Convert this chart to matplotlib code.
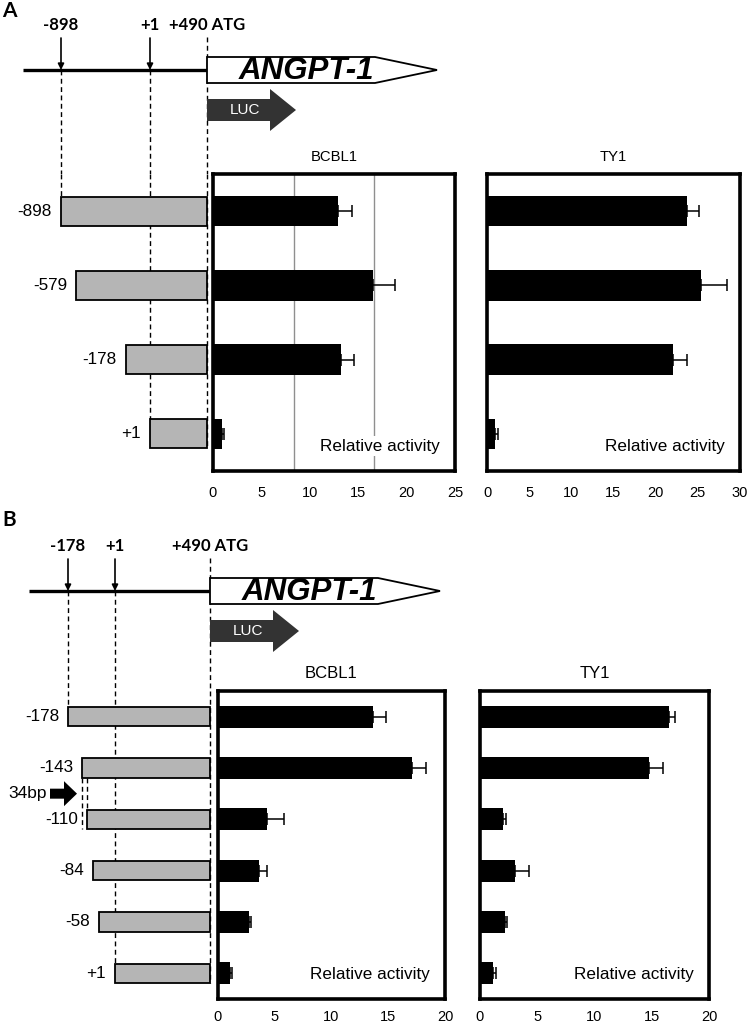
import numpy as np
import matplotlib
matplotlib.use("Agg")
import matplotlib.pyplot as plt
from matplotlib.patches import Polygon

plt.rcParams["font.family"] = ["Liberation Sans", "DejaVu Sans"]
BOLD = ["Lato", "DejaVu Sans"]

W, H = 750, 1026

# ---- data ----
atg = 490
gene_name = "ANGPT-1"
reporter = "LUC"
cells = ["BCBL1", "TY1"]

a_labels = ["-898", "-579", "-178", "+1"]
a_start = [-898, -579, -178, 1]
a_sites = [-898, 1]
a_bcbl1 = [12.9, 16.5, 13.2, 0.95]
a_bcbl1_err = [1.45, 2.3, 1.35, 0.2]
a_ty1 = [23.7, 25.4, 22.1, 0.95]
a_ty1_err = [1.4, 3.1, 1.6, 0.3]
a_xmax = [25, 30]

b_labels = ["-178", "-143", "-110", "-84", "-58", "+1"]
b_start = [-178, -143, -110, -84, -58, 1]
b_sites = [-178, 1]
b_bcbl1 = [13.7, 17.1, 4.3, 3.6, 2.7, 1.1]
b_bcbl1_err = [1.1, 1.2, 1.5, 0.7, 0.2, 0.15]
b_ty1 = [16.5, 14.8, 2.0, 3.05, 2.2, 1.1]
b_ty1_err = [0.5, 1.2, 0.3, 1.25, 0.2, 0.3]
b_xmax = [20, 20]
gap_label = "34bp"

# ---- layout (pixels) ----
# schematic (not to scale) placement of promoter positions
a_sketch = ([-898, -579, -178, 1, 490], [61, 76, 126, 150, 207])
b_sketch = ([-178, -143, -110, -84, -58, 1, 490], [68, 82, 87, 93, 99, 115, 210])

a_lay = dict(top=0, box_top=174, box_bot=471, line_y=70, line_x0=23, letter_y=11,
             boxes=[(213, 455), (487, 740)], title_size=10.7, bar_h=0.41, con_h=0.39,
             grids=[[25 / 3, 50 / 3], [10, 20]], grid_color="#8f8f8f", tick_pad=11)
b_lay = dict(top=480, box_top=691, box_bot=999, line_y=591, line_x0=29, letter_y=520,
             boxes=[(218, 445), (480, 709)], title_size=12, bar_h=0.43, con_h=0.38,
             grids=[[5, 10, 15], [5, 10, 15]], grid_color="black", tick_pad=8)

fig = plt.figure(figsize=(W / 100, H / 100), dpi=100)


def add_px(x0, y0, x1, y1):
    return fig.add_axes([x0 / W, 1 - y1 / H, (x1 - x0) / W, (y1 - y0) / H])


DASH = dict(color="black", lw=1.0, linestyle=(0, (3.5, 2.5)))


def draw_panel(letter, labels, starts, sites, sketch, series, xmaxs, lay):
    top, box_top, box_bot = lay["top"], lay["box_top"], lay["box_bot"]
    n = len(labels)

    def sk(bp):
        return np.interp(bp, sketch[0], sketch[1])

    x_atg = float(sk(atg))
    ly = lay["line_y"]

    # gene map
    axg = add_px(0, top, W, box_top)
    axg.set_xlim(0, W)
    axg.set_ylim(box_top, top)
    axg.axis("off")
    axg.text(9, lay["letter_y"], letter, family=BOLD, weight="bold", fontsize=15,
             ha="center", va="center")
    axg.plot([lay["line_x0"], x_atg], [ly, ly], color="black", lw=2.4,
             solid_capstyle="butt", zorder=2)
    for bp in sites:
        x = float(sk(bp))
        axg.annotate("", xy=(x, ly), xytext=(x, ly - 32),
                     arrowprops=dict(arrowstyle="-|>", color="black", lw=1.2,
                                     mutation_scale=9, shrinkA=0, shrinkB=0))
        axg.text(x, ly - 45, f"{bp:+d}", family=BOLD, weight="bold", fontsize=12,
                 ha="center", va="center")
        axg.plot([x, x], [ly, box_top], **DASH, zorder=1)
    axg.text(x_atg, ly - 45, f"{atg:+d} ATG", family=BOLD, weight="bold",
             fontsize=12, ha="center", va="center")
    axg.plot([x_atg, x_atg], [ly - 33, box_top], **DASH, zorder=1)

    gene = Polygon([(x_atg, ly - 13), (x_atg + 168, ly - 13), (x_atg + 230, ly),
                    (x_atg + 168, ly + 13), (x_atg, ly + 13)],
                   closed=True, fc="white", ec="black", lw=1.3, zorder=3)
    axg.add_patch(gene)
    axg.text(x_atg + 99, ly + 1, gene_name, fontsize=22.5, weight="bold",
             style="italic", ha="center", va="center", zorder=4)

    cy = ly + 40
    luc = Polygon([(x_atg, cy - 11), (x_atg + 63, cy - 11), (x_atg + 63, cy - 21),
                   (x_atg + 89, cy), (x_atg + 63, cy + 21), (x_atg + 63, cy + 11),
                   (x_atg, cy + 11)], closed=True, fc="#333333", ec="none", zorder=3)
    axg.add_patch(luc)
    axg.text(x_atg + 38, cy, reporter, color="white", fontsize=11,
             ha="center", va="center", zorder=4)

    # deletion constructs
    box_left = lay["boxes"][0][0]
    axc = add_px(0, box_top, box_left, box_bot)
    axc.set_xlim(0, box_left)
    axc.set_ylim(n - 0.5, -0.5)
    axc.axis("off")
    rows = np.arange(n)
    lefts = sk(np.array(starts))
    hc = lay["con_h"]
    axc.barh(rows, x_atg - lefts, left=lefts, height=hc, color="#b5b5b5",
             edgecolor="black", lw=1.3, zorder=3)
    for lab, x, r in zip(labels, lefts, rows):
        axc.annotate(lab, xy=(x, r), xytext=(-9, 0), textcoords="offset pixels",
                     ha="right", va="center", fontsize=12.3)
    for bp in sites:
        r = starts.index(bp)
        x = float(sk(bp))
        axc.plot([x, x], [-0.5, r - hc / 2], **DASH, zorder=1, clip_on=False)
    axc.plot([x_atg, x_atg], [-0.5, n - 1 + hc / 2], **DASH, zorder=1, clip_on=False)

    # activity bars
    for (title, vals, errs), xmax, (x0, x1), grid in zip(series, xmaxs, lay["boxes"],
                                                         lay["grids"]):
        ax = add_px(x0, box_top, x1, box_bot)
        ax.barh(rows, vals, height=lay["bar_h"], color="black",
                xerr=[np.zeros(n), errs],
                error_kw=dict(ecolor="black", elinewidth=1.1, capsize=4.5, capthick=1.1))
        ax.set_xlim(0, xmax)
        ax.set_ylim(n - 0.5, -0.5)
        ax.set_xticks(np.arange(0, xmax + 1, 5))
        ax.set_xticks(grid, minor=True)
        ax.grid(axis="x", which="minor", color=lay["grid_color"], lw=1.0)
        ax.set_axisbelow(True)
        ax.set_yticks([])
        ax.tick_params(which="both", length=0, labelsize=10.5, pad=lay["tick_pad"])
        for s in ax.spines.values():
            s.set_linewidth(2.6)
        ax.set_title(title, fontsize=lay["title_size"], pad=9)
        ax.annotate("Relative activity", xy=(1, 0), xycoords="axes fraction",
                    xytext=(-15, 25), textcoords="offset pixels", ha="right",
                    va="center", fontsize=12.3, zorder=5,
                    bbox=dict(fc="white", ec="none", pad=1.5))
    return axc, sk


draw_panel("A", a_labels, a_start, a_sites, a_sketch,
           [(cells[0], a_bcbl1, a_bcbl1_err), (cells[1], a_ty1, a_ty1_err)],
           a_xmax, a_lay)
axc_b, sk_b = draw_panel("B", b_labels, b_start, b_sites, b_sketch,
                         [(cells[0], b_bcbl1, b_bcbl1_err), (cells[1], b_ty1, b_ty1_err)],
                         b_xmax, b_lay)

# 34 bp deletion between -143 and -110
hc = b_lay["con_h"]
row_px = (b_lay["box_bot"] - b_lay["box_top"]) / len(b_start)
i1, i2 = b_start.index(-143), b_start.index(-110)
x1, x2 = float(sk_b(-143)), float(sk_b(-110))
axc_b.plot([x1, x1], [i1 + hc / 2, i2 + hc / 2], **DASH, zorder=1)
axc_b.plot([x2, x2], [i1 + hc / 2, i2 - hc / 2], **DASH, zorder=1)
ym = (i1 + i2) / 2
tip = x1 - 5
bw, hw = 5 / row_px, 12.5 / row_px
gap_arrow = Polygon([(tip - 27, ym - bw), (tip - 13, ym - bw), (tip - 13, ym - hw),
                     (tip, ym), (tip - 13, ym + hw), (tip - 13, ym + bw),
                     (tip - 27, ym + bw)], closed=True, fc="black", ec="none", zorder=3)
axc_b.add_patch(gap_arrow)
axc_b.annotate(gap_label, xy=(tip - 27, ym), xytext=(-3, 0), textcoords="offset pixels",
               ha="right", va="center", fontsize=12.5)

fig.savefig("out.png", dpi=100)
